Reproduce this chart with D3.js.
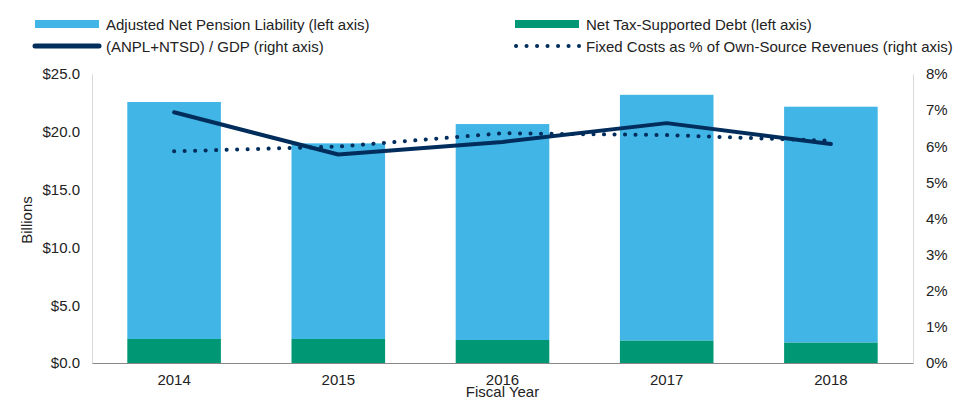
<!DOCTYPE html>
<html>
<head>
<meta charset="utf-8">
<script src="https://cdn.jsdelivr.net/npm/d3@7"></script>
<style>
  body { margin: 0; background: #fff; }
  svg text { font-family: "Liberation Sans", Arial, sans-serif; fill: #222; }
</style>
</head>
<body>
<div class="chart"></div>
<script>
// data
var years = ["2014", "2015", "2016", "2017", "2018"];
var ntsd = [2.08, 2.08, 1.99, 1.93, 1.76];          // Net Tax-Supported Debt ($bn)
var anpl = [20.50, 16.92, 18.68, 21.27, 20.41];     // Adjusted Net Pension Liability ($bn)
var debtToGdp = [6.94, 5.77, 6.12, 6.64, 6.06];     // (ANPL+NTSD) / GDP (%)
var fixedCosts = [5.86, 5.99, 6.36, 6.31, 6.15];    // Fixed costs % of own-source revenues
var leftTicks = [0, 5, 10, 15, 20, 25];
var rightTicks = [0, 1, 2, 3, 4, 5, 6, 7, 8];

var blue = "#41b6e6", green = "#009775", navy = "#002d5c";

var margin = { top: 74, right: 46, bottom: 37, left: 92 };
var width = 959, height = 400;

var svg = d3.select(".chart")
    .append("svg")
    .attr("width", width)
    .attr("height", height);

var x = d3.scaleBand()
    .domain(years)
    .range([margin.left, width - margin.right])
    .paddingInner(0.43)
    .paddingOuter(0.215);

var yL = d3.scaleLinear().domain([0, 25]).range([height - margin.bottom, margin.top]);
var yR = d3.scaleLinear().domain([0, 8]).range([height - margin.bottom, margin.top]);

// bars
var g = svg.append("g");
years.forEach(function(yr, i) {
    g.append("rect")
        .attr("x", x(yr))
        .attr("width", x.bandwidth())
        .attr("y", yL(ntsd[i] + anpl[i]))
        .attr("height", yL(ntsd[i]) - yL(ntsd[i] + anpl[i]))
        .attr("fill", blue);
    g.append("rect")
        .attr("x", x(yr))
        .attr("width", x.bandwidth())
        .attr("y", yL(ntsd[i]))
        .attr("height", yL(0) - yL(ntsd[i]))
        .attr("fill", green);
});

// axes
var leftAxis = svg.append("g")
    .attr("transform", "translate(" + margin.left + ",0)")
    .call(d3.axisLeft(yL).tickValues(leftTicks).tickSize(0).tickPadding(12)
        .tickFormat(function(d) { return "$" + d.toFixed(1); }));
leftAxis.select(".domain").attr("stroke", "#d9d9d9");

var rightAxis = svg.append("g")
    .attr("transform", "translate(" + (width - margin.right) + ",0)")
    .call(d3.axisRight(yR).tickValues(rightTicks).tickSize(0).tickPadding(13)
        .tickFormat(function(d) { return d + "%"; }));
rightAxis.select(".domain").attr("stroke", "#d9d9d9");

var bottomAxis = svg.append("g")
    .attr("transform", "translate(0," + (height - margin.bottom) + ")")
    .call(d3.axisBottom(x).tickSize(0).tickPadding(11));
bottomAxis.select(".domain").attr("stroke", "#888").attr("stroke-width", 1.2);

svg.selectAll(".tick text").style("font-size", "15px").attr("fill", "#222")
    .style("font-family", "Liberation Sans, Arial, sans-serif");

// lines
var cx = function(d, i) { return x(years[i]) + x.bandwidth() / 2; };

svg.append("path")
    .datum(fixedCosts)
    .attr("fill", "none")
    .attr("stroke", navy)
    .attr("stroke-width", 4)
    .attr("stroke-linecap", "round")
    .attr("stroke-dasharray", "0.1 10.4")
    .attr("d", d3.line().x(cx).y(function(d) { return yR(d); }));

svg.append("path")
    .datum(debtToGdp)
    .attr("fill", "none")
    .attr("stroke", navy)
    .attr("stroke-width", 4)
    .attr("stroke-linecap", "round")
    .attr("stroke-linejoin", "round")
    .attr("d", d3.line().x(cx).y(function(d) { return yR(d); }));

// axis titles
svg.append("text")
    .attr("transform", "translate(32,220) rotate(-90)")
    .attr("text-anchor", "middle")
    .style("font-size", "15px")
    .text("Billions");

svg.append("text")
    .attr("x", x("2016") + x.bandwidth() / 2)
    .attr("y", 397)
    .attr("text-anchor", "middle")
    .style("font-size", "15px")
    .text("Fiscal Year");

// legend
var legend = [
    { label: "Adjusted Net Pension Liability (left axis)", type: "rect", color: blue, x: 35, y: 24 },
    { label: "Net Tax-Supported Debt (left axis)", type: "rect", color: green, x: 515, y: 24 },
    { label: "(ANPL+NTSD) / GDP (right axis)", type: "line", color: navy, x: 35, y: 46 },
    { label: "Fixed Costs as % of Own-Source Revenues (right axis)", type: "dot", color: navy, x: 515, y: 46 }
];

var lg = svg.selectAll(".legend")
    .data(legend)
    .enter().append("g")
    .attr("class", "legend")
    .attr("transform", function(d) { return "translate(" + d.x + "," + d.y + ")"; });

lg.each(function(d) {
    var s = d3.select(this);
    if (d.type == "rect") {
        s.append("rect").attr("x", 0).attr("y", -4).attr("width", 64).attr("height", 8).attr("fill", d.color);
    } else if (d.type == "line") {
        s.append("line").attr("x1", 0).attr("x2", 64).attr("y1", 0).attr("y2", 0)
            .attr("stroke", d.color).attr("stroke-width", 5).attr("stroke-linecap", "round");
    } else {
        s.append("line").attr("x1", 1).attr("x2", 64).attr("y1", 0).attr("y2", 0)
            .attr("stroke", d.color).attr("stroke-width", 4).attr("stroke-linecap", "round")
            .attr("stroke-dasharray", "0.1 10.4");
    }
    s.append("text").attr("x", 71).attr("y", 5.5).style("font-size", "15px").text(d.label);
});
</script>
</body>
</html>
